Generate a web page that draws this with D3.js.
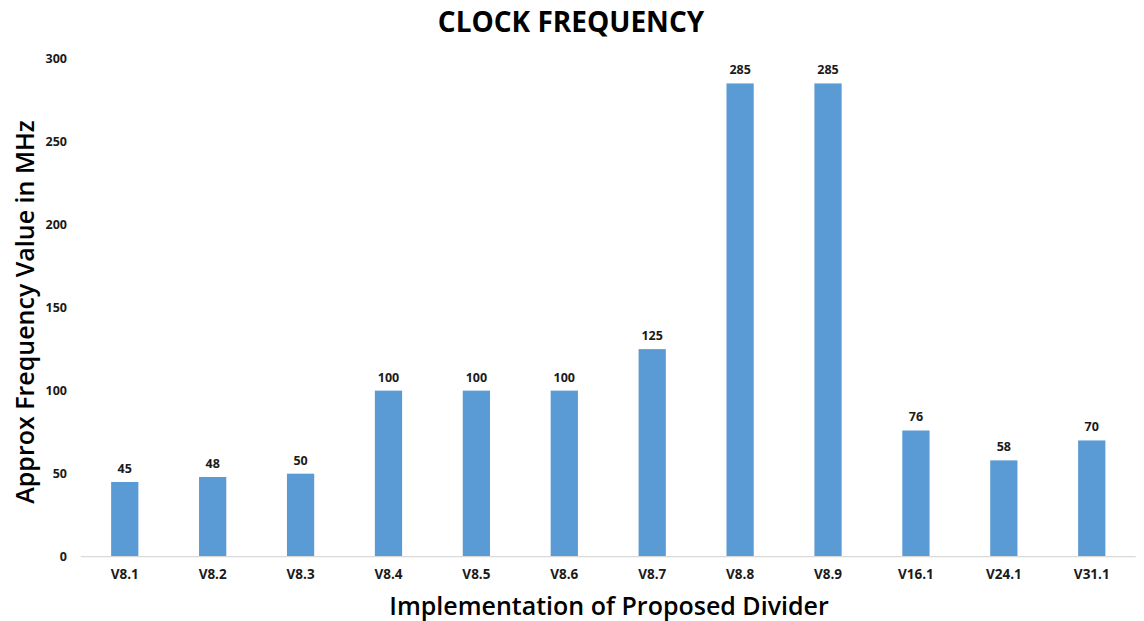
<!DOCTYPE html>
<html>
<head>
<meta charset="utf-8">
<script src="https://cdn.jsdelivr.net/npm/d3@7"></script>
<style>
  html, body { margin: 0; padding: 0; background: #fff; }
  svg { display: block; font-family: "Open Sans", "Liberation Sans", sans-serif; }
</style>
</head>
<body>
<svg id="chart" width="1144" height="621"></svg>
<script>
// Clock frequency per divider implementation (MHz)
const categories = ["V8.1", "V8.2", "V8.3", "V8.4", "V8.5", "V8.6", "V8.7", "V8.8", "V8.9", "V16.1", "V24.1", "V31.1"];
const frequencies = [45, 48, 50, 100, 100, 100, 125, 285, 285, 76, 58, 70];
const yTicks = [0, 50, 100, 150, 200, 250, 300];

const width = 1144, height = 621;
const margin = { top: 58.5, right: 8.3, bottom: 64.3, left: 80.8 };

const svg = d3.select("#chart");

const x = d3.scaleBand()
  .domain(categories)
  .range([margin.left, width - margin.right])
  .paddingInner(0.69)
  .paddingOuter(0.345);

const y = d3.scaleLinear()
  .domain([0, 300])
  .range([height - margin.bottom, margin.top]);

// Bars
svg.append("g")
  .selectAll("rect")
  .data(frequencies)
  .join("rect")
  .attr("x", (d, i) => x(categories[i]))
  .attr("y", d => y(d))
  .attr("width", x.bandwidth())
  .attr("height", d => y(0) - y(d))
  .attr("fill", "#5B9BD5");

// Baseline
svg.append("line")
  .attr("x1", margin.left)
  .attr("x2", width - margin.right)
  .attr("y1", y(0))
  .attr("y2", y(0))
  .attr("stroke", "#D9D9D9")
  .attr("stroke-width", 1.2);

// Y axis tick labels
const yAxis = svg.append("g")
  .attr("transform", `translate(67,0)`)
  .call(d3.axisLeft(y).tickValues(yTicks).tickSize(0).tickPadding(0));
yAxis.select(".domain").remove();
yAxis.selectAll("text")
  .attr("font-family", "'Open Sans', sans-serif")
  .attr("font-size", 12.5)
  .attr("font-weight", "bold")
  .attr("fill", "#1a1a1a");

// X axis category labels
const xAxis = svg.append("g")
  .attr("transform", `translate(0,${y(0)})`)
  .call(d3.axisBottom(x).tickSize(0).tickPadding(13));
xAxis.select(".domain").remove();
xAxis.selectAll("text")
  .attr("font-family", "'Open Sans', sans-serif")
  .attr("font-size", 13.5)
  .attr("font-weight", "bold")
  .attr("fill", "#1a1a1a");

// Value labels above bars
svg.append("g")
  .selectAll("text")
  .data(frequencies)
  .join("text")
  .attr("x", (d, i) => x(categories[i]) + x.bandwidth() / 2)
  .attr("y", d => y(d) - 9)
  .attr("text-anchor", "middle")
  .attr("font-size", 12.5)
  .attr("font-weight", "bold")
  .attr("fill", "#1a1a1a")
  .text(d => d);

// Title
svg.append("text")
  .attr("x", 571)
  .attr("y", 32)
  .attr("text-anchor", "middle")
  .attr("font-size", 28)
  .attr("font-weight", "bold")
  .attr("fill", "#000")
  .text("CLOCK FREQUENCY");

// Y axis title
svg.append("text")
  .attr("transform", `translate(34,312) rotate(-90)`)
  .attr("text-anchor", "middle")
  .attr("font-size", 25)
  .attr("font-weight", "600")
  .attr("fill", "#000")
  .text("Approx Frequency Value in MHz");

// X axis title
svg.append("text")
  .attr("x", 609)
  .attr("y", 615)
  .attr("text-anchor", "middle")
  .attr("font-size", 25)
  .attr("font-weight", "600")
  .attr("fill", "#000")
  .text("Implementation of Proposed Divider");
</script>
</body>
</html>
